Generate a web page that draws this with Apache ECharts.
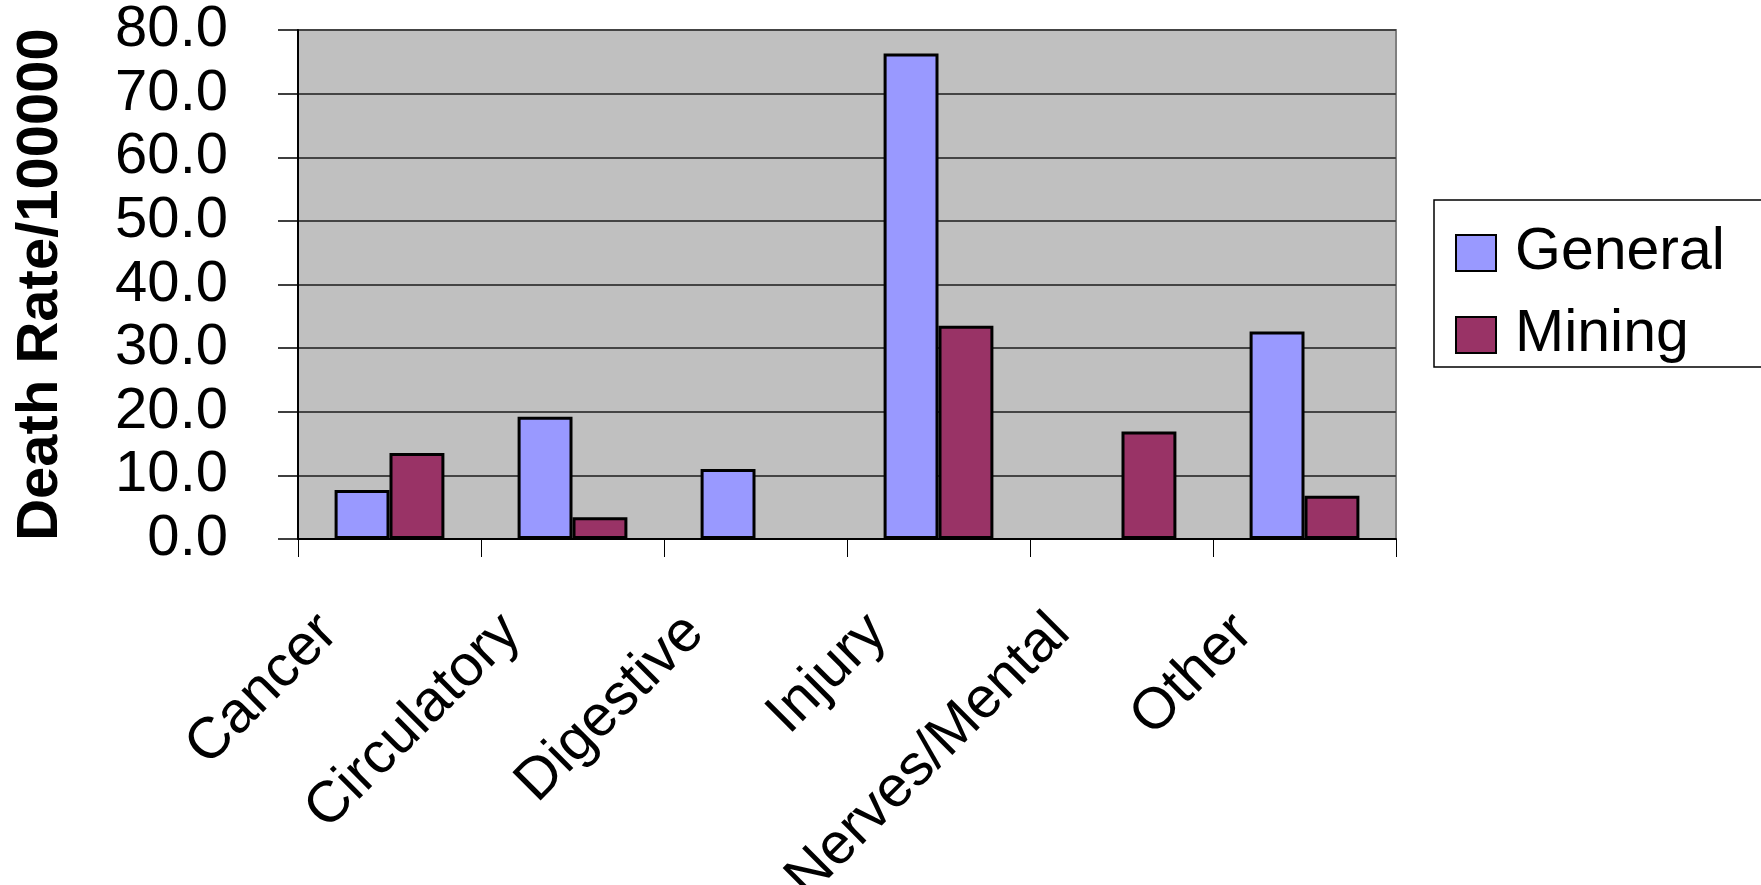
<!DOCTYPE html>
<html>
<head>
<meta charset="utf-8">
<style>
  html, body { margin: 0; padding: 0; background: #ffffff; }
  #chart { width: 1761px; height: 885px; }
</style>
<script src="https://cdn.jsdelivr.net/npm/echarts@6/dist/echarts.min.js"></script>
</head>
<body>
<div id="chart"></div>
<script>
// Causes of death
const categories = ['Cancer', 'Circulatory', 'Digestive', 'Injury', 'Nerves/Mental', 'Other'];
// Death rate per 100000, general population (null = no bar)
const general = [7.7, 19.2, 11.0, 76.3, null, 32.6];
// Death rate per 100000, mining workers
const mining = [13.5, 3.4, null, 33.5, 16.9, 6.8];
// Value axis range
const yMin = 0;
const yMax = 80;
const yStep = 10;

const FONT = 'Liberation Sans, Arial, sans-serif';

const chart = echarts.init(document.getElementById('chart'), null, { renderer: 'canvas' });

chart.setOption({
  backgroundColor: '#ffffff',
  animation: false,
  grid: {
    left: 298, right: 365, top: 30, bottom: 346,
    containLabel: false,
    outerBoundsMode: 'none',
    show: true,
    backgroundColor: '#C0C0C0',
    borderColor: '#808080',
    borderWidth: 2
  },
  legend: {
    orient: 'vertical',
    left: 1434,
    top: 200,
    padding: [23, 300, 2, 21],
    itemGap: 22,
    itemWidth: 40,
    itemHeight: 36,
    icon: 'rect',
    backgroundColor: '#ffffff',
    borderColor: '#000000',
    borderWidth: 1.5,
    textStyle: { fontFamily: FONT, fontSize: 59, color: '#000000', lineHeight: 60, padding: [0, 0, 0, 14] },
    data: ['General', 'Mining']
  },
  xAxis: {
    type: 'category',
    data: categories,
    boundaryGap: true,
    axisLine: { show: true, lineStyle: { color: '#000000', width: 2 } },
    axisTick: { show: true, alignWithLabel: false, length: 18, lineStyle: { color: '#000000', width: 1 } },
    axisLabel: {
      rotate: 45,
      margin: 24,
      fontFamily: FONT,
      fontSize: 58,
      color: '#000000',
      padding: [0, 86, 0, 0],
      interval: 0
    },
    splitLine: { show: false }
  },
  yAxis: {
    type: 'value',
    min: yMin,
    max: yMax,
    interval: yStep,
    name: 'Death Rate/100000',
    nameLocation: 'middle',
    nameGap: 228,
    nameTextStyle: { fontFamily: FONT, fontSize: 58, fontWeight: 'bold', color: '#000000' },
    axisLine: { show: true, lineStyle: { color: '#000000', width: 2 } },
    axisTick: { show: true, inside: false, length: 20, lineStyle: { color: '#000000', width: 1.5 } },
    axisLabel: {
      margin: 70,
      fontFamily: FONT,
      fontSize: 58,
      color: '#000000',
      formatter: v => v.toFixed(1)
    },
    splitLine: { show: true, lineStyle: { color: '#444444', width: 2 } }
  },
  series: [
    {
      name: 'General',
      type: 'bar',
      data: general,
      barGap: '0%',
      barCategoryGap: '40%',
      itemStyle: { color: '#9999FF', borderColor: '#000000', borderWidth: 3 }
    },
    {
      name: 'Mining',
      type: 'bar',
      data: mining,
      barGap: '0%',
      barCategoryGap: '40%',
      itemStyle: { color: '#993366', borderColor: '#000000', borderWidth: 3 }
    }
  ]
});
</script>
</body>
</html>
